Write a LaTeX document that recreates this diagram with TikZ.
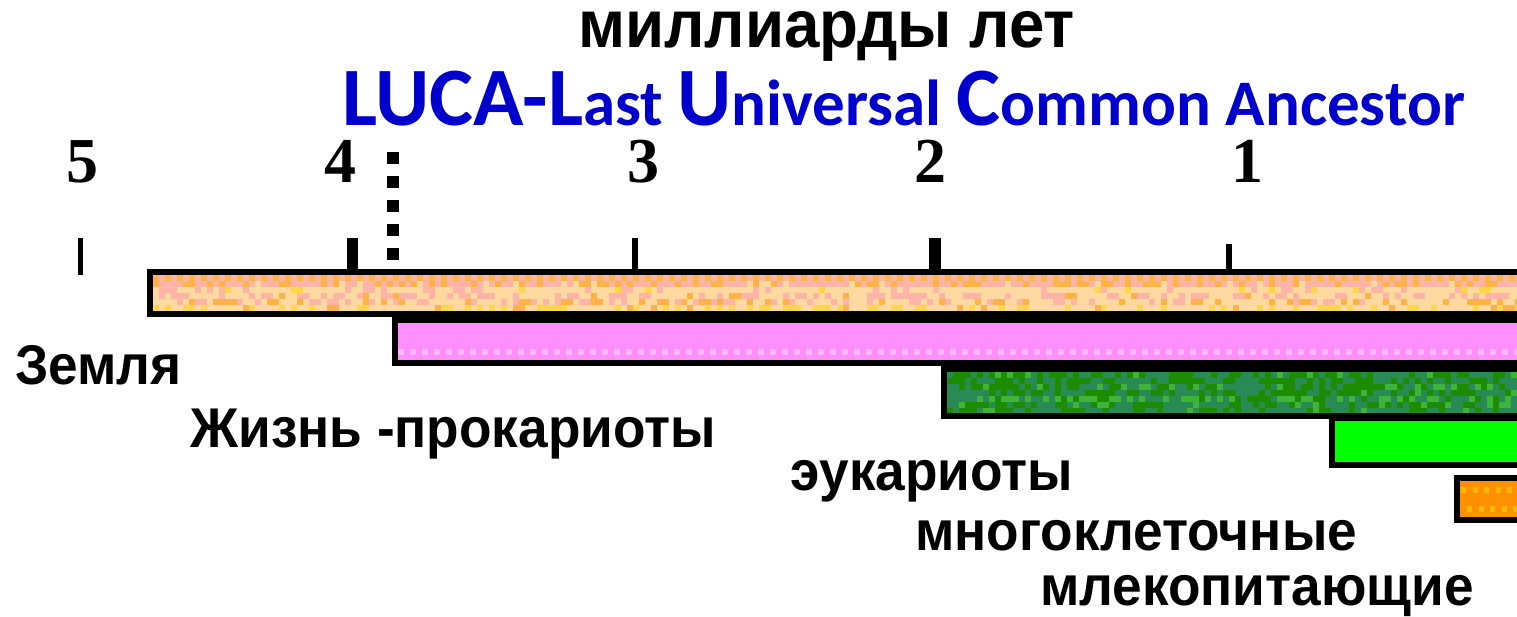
\documentclass[tikz,border=0pt]{standalone}
\usepackage{fontspec}
\setmainfont{Liberation Sans}
\newfontfamily\lblfont[FakeStretch=0.95]{Liberation Sans}
\newfontfamily\numfont{Liberation Serif}
\newfontfamily\lucafont{Carlito}

\definecolor{peach}{HTML}{FFD9A0}
\definecolor{rose}{HTML}{FFB4A8}
\definecolor{amber}{HTML}{FFB347}
\definecolor{sun}{HTML}{FFD744}
\definecolor{lilac}{HTML}{FF8FFF}
\definecolor{lilacdot}{HTML}{FFB8FF}
\definecolor{seagrn}{HTML}{2A8A55}
\definecolor{leaf}{HTML}{1E8C00}
\definecolor{sprout}{HTML}{3DB53A}
\definecolor{lime}{HTML}{00FF00}
\definecolor{tangerine}{HTML}{FF9100}
\definecolor{gold}{HTML}{FFBA00}
\definecolor{lucablue}{HTML}{0000CC}

% one row of square cells, each randomly painted with one of two colours
% #1 first x, #2 top y, #3 cell height, #4 colour A, #5 percent A,
% #6 colour B, #7 percent B, #8 number of cells
\newcommand\cellrow[8]{%
  \foreach \k in {0,...,#8}{%
    \pgfmathrandominteger{\r}{0}{99}%
    \pgfmathsetmacro\xx{#1+6*\k}%
    \ifnum\r<#5\relax
      \fill[#4] (\xx,#2) rectangle ++(6,#3);%
    \else\ifnum\r<\numexpr#5+#7\relax
      \fill[#6] (\xx,#2) rectangle ++(6,#3);%
    \fi\fi
  }}

\newcommand\lucaBig[1]{{\fontsize{83}{90}\selectfont #1}}
\newcommand\lucaSmall[1]{{\fontsize{65}{70}\selectfont #1}}

\begin{document}
\begin{tikzpicture}[x=1pt,y=-1pt,
  lbl/.style={anchor=base west, inner sep=0, font=\lblfont\fontsize{56}{60}\selectfont\bfseries},
  num/.style={anchor=base, inner sep=0, font=\numfont\fontsize{64}{70}\selectfont\bfseries},
  bar/.style={draw=black, line width=6},
  tickmark/.style={fill=black}]
\useasboundingbox (0,0) rectangle (1517,616);
\pgfmathsetseed{1234}

% headings
\node[lbl, font=\lblfont\fontsize{67}{70}\selectfont\bfseries] (title) at (578,47) {миллиарды лет};
\node[anchor=base west, inner sep=0, text=lucablue, font=\lucafont\bfseries] (luca) at (342,125)
  {\lucaBig{LUCA-L}\lucaSmall{ast }\lucaBig{U}\lucaSmall{niversal }\lucaBig{C}\lucaSmall{ommon Ancestor}};

% scale numbers
\node[num] (n5) at (82,182) {5};
\node[num] (n4) at (340,182) {4};
\node[num] (n3) at (643,182) {3};
\node[num] (n2) at (930,182) {2};
\node[num] (n1) at (1247,182) {1};

% tick marks
\fill[tickmark] (78,238) rectangle (83,275);
\fill[tickmark] (347,238) rectangle (358,270);
\fill[tickmark] (632,238) rectangle (638,270);
\fill[tickmark] (929,238) rectangle (941,270);
\fill[tickmark] (1226,244) rectangle (1232,270);

% LUCA marker
\coordinate (lucatop) at (393,152);
\coordinate (lucabot) at (393,262);
\draw[line width=12, dash pattern=on 12 off 12] (lucatop) -- (lucabot);

\begin{scope}
\clip (0,0) rectangle (1517,616);
% Earth
\fill[peach] (150,272) rectangle (1530,314);
\fill[rose] (150,272) rectangle (1530,287);
\foreach \k in {0,...,115}{\fill[amber] (153+12*\k,275) rectangle ++(6,6);}
\cellrow{153}{281}{6}{amber}{30}{peach}{10}{230}
\cellrow{153}{287}{6}{rose}{20}{sun}{5}{230}
\cellrow{153}{293}{6}{rose}{40}{amber}{5}{230}
\cellrow{153}{299}{6}{amber}{25}{rose}{25}{230}
\cellrow{153}{305}{6}{sun}{30}{amber}{10}{230}
\draw[bar] (150,272) rectangle (1530,314);

% Life: prokaryotes
\fill[lilac] (395,320) rectangle (1530,363);
\foreach \k in {0,...,95}{\fill[lilacdot] (398+12*\k,349) rectangle ++(6,6);}
\draw[bar] (395,320) rectangle (1530,363);

% eukaryotes
\fill[seagrn] (944,369) rectangle (1530,416);
\cellrow{947}{372}{6}{leaf}{50}{sprout}{10}{100}
\cellrow{947}{378}{6}{leaf}{45}{seagrn}{0}{100}
\cellrow{947}{384}{6}{sprout}{20}{leaf}{40}{100}
\cellrow{947}{390}{6}{leaf}{50}{sprout}{5}{100}
\cellrow{947}{396}{6}{sprout}{30}{leaf}{30}{100}
\cellrow{947}{402}{6}{leaf}{40}{sprout}{15}{100}
\cellrow{947}{408}{6}{leaf}{45}{sprout}{5}{100}
\draw[bar] (944,369) rectangle (1530,416);

% multicellular
\fill[lime] (1332,418) rectangle (1530,465);
\draw[bar] (1332,418) rectangle (1530,465);

% mammals
\fill[tangerine] (1457,478) rectangle (1530,520);
\foreach \k in {0,...,6}{
  \fill[gold] (1461+11.5*\k,487) rectangle ++(5,6);
  \fill[gold] (1467+11.5*\k,506) rectangle ++(5,6);}
\draw[bar] (1457,478) rectangle (1530,520);
\end{scope}

% bar labels
\node[lbl] (earth) at (15,384) {Земля};
\node[lbl] (life) at (190,447) {Жизнь -прокариоты};
\node[lbl] (euk) at (790,490) {эукариоты};
\node[lbl] (multi) at (915,550) {многоклеточные};
\node[lbl] (mamm) at (1040,605) {млекопитающие};
\end{tikzpicture}
\end{document}
